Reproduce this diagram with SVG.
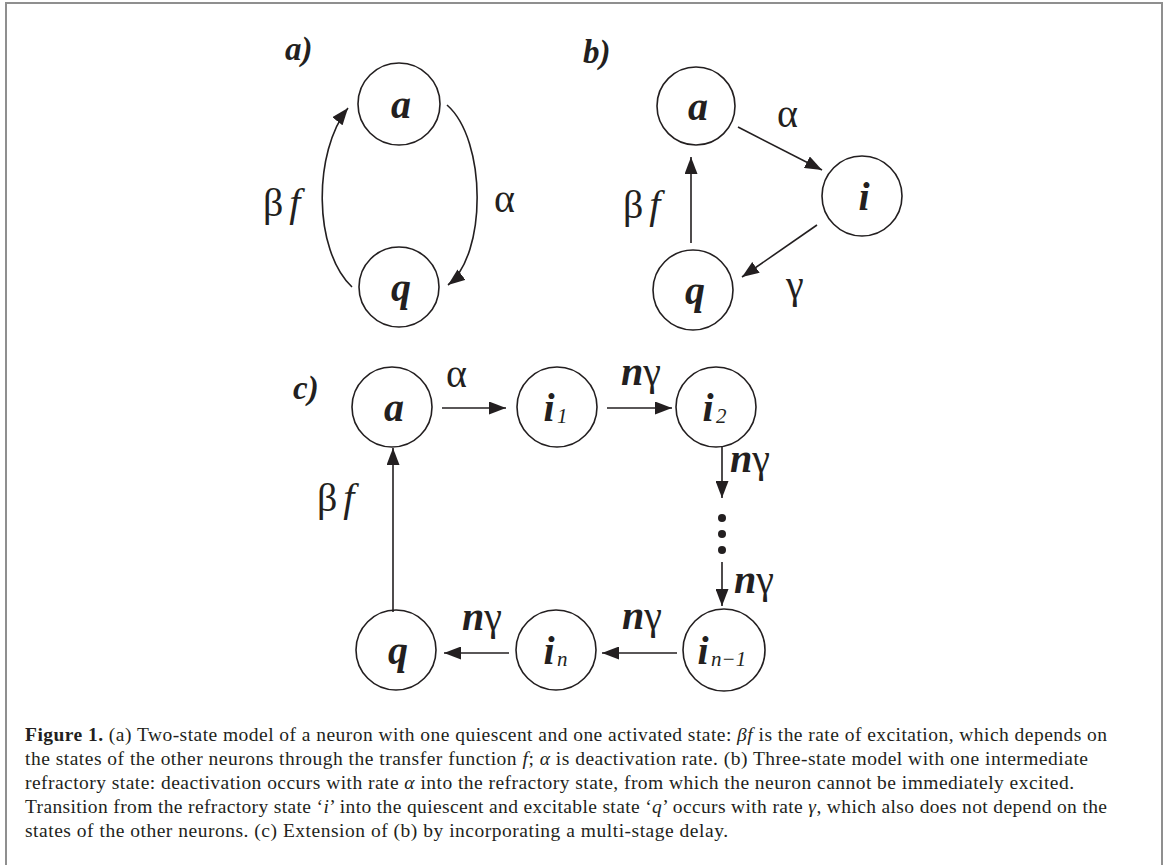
<svg xmlns="http://www.w3.org/2000/svg" width="1168" height="865" viewBox="0 0 1168 865">
<style>
.node{fill:none;stroke:#231f20;stroke-width:1.6}
.edge{fill:none;stroke:#231f20;stroke-width:1.6}
.nl{font-family:"Liberation Serif",serif;font-style:italic;font-weight:bold;font-size:40px;fill:#231f20;text-anchor:middle}
.sub{font-family:"Liberation Serif",serif;font-style:italic;font-size:21px;fill:#231f20}
.pl{font-family:"Liberation Serif",serif;font-style:italic;font-weight:bold;font-size:33px;fill:#231f20}
.gr{font-family:"Liberation Serif",serif;font-size:40px;fill:#231f20}
.it{font-style:italic}
.bi{font-style:italic;font-weight:bold}
.cap{font-family:"Liberation Serif",serif;font-size:19.5px;fill:#231f20}
</style>
<defs>
<marker id="ah" markerUnits="userSpaceOnUse" markerWidth="18" markerHeight="13" refX="17" refY="6.5" orient="auto">
<path d="M0,0 L17,6.5 L0,13 z" fill="#231f20"/>
</marker>
</defs>
<rect x="0" y="0" width="1168" height="865" fill="#ffffff"/>
<rect x="6" y="3" width="1156" height="920" fill="none" stroke="#8f8f8f" stroke-width="2"/>

<g id="connectors">
<path class="edge" d="M447,105 C487,140 487,255 448,285" marker-end="url(#ah)"/>
<path class="edge" d="M352,287 C313,250 313,152 348,108" marker-end="url(#ah)"/>
<path class="edge" d="M738,127 L822,170" marker-end="url(#ah)"/>
<path class="edge" d="M817,225 L742,277" marker-end="url(#ah)"/>
<path class="edge" d="M691,243 L691,157" marker-end="url(#ah)"/>
<path class="edge" d="M442,408 L506,408" marker-end="url(#ah)"/>
<path class="edge" d="M607,408 L672,408" marker-end="url(#ah)"/>
<path class="edge" d="M722,447 L722,498" marker-end="url(#ah)"/>
<path class="edge" d="M722,562 L722,606" marker-end="url(#ah)"/>
<path class="edge" d="M677,653 L602,653" marker-end="url(#ah)"/>
<path class="edge" d="M509,653 L444,653" marker-end="url(#ah)"/>
<path class="edge" d="M393,612 L393,448" marker-end="url(#ah)"/>
<circle cx="722" cy="518" r="4" fill="#231f20"/>
<circle cx="722" cy="534" r="4" fill="#231f20"/>
<circle cx="722" cy="550" r="4" fill="#231f20"/>
</g>

<g id="labels">
<text class="pl" x="285" y="60">a)</text>
<text class="pl" x="583" y="63">b)</text>
<text class="pl" x="293" y="399">c)</text>
<text class="gr" x="263" y="216">β<tspan class="it" dx="6">f</tspan></text>
<text class="gr" x="494" y="212">α</text>
<text class="gr" x="777" y="127">α</text>
<text class="gr" x="623" y="218">β<tspan class="it" dx="6">f</tspan></text>
<text class="gr" x="786" y="298">γ</text>
<text class="gr" x="446" y="387">α</text>
<text class="gr" x="621" y="385"><tspan class="bi">n</tspan>γ</text>
<text class="gr" x="730" y="472"><tspan class="bi">n</tspan>γ</text>
<text class="gr" x="734" y="593"><tspan class="bi">n</tspan>γ</text>
<text class="gr" x="622" y="629"><tspan class="bi">n</tspan>γ</text>
<text class="gr" x="462" y="630"><tspan class="bi">n</tspan>γ</text>
<text class="gr" x="317" y="511">β<tspan class="it" dx="6">f</tspan></text>
</g>

<g id="node-a-a">
<circle class="node" cx="399" cy="104" r="41"/>
<text class="nl" x="401" y="118">a</text>
</g>
<g id="node-a-q">
<circle class="node" cx="399" cy="287" r="40"/>
<text class="nl" x="401" y="301">q</text>
</g>
<g id="node-b-a">
<circle class="node" cx="696" cy="106" r="39"/>
<text class="nl" x="698" y="120">a</text>
</g>
<g id="node-b-i">
<circle class="node" cx="862" cy="196" r="40"/>
<text class="nl" x="864" y="210">i</text>
</g>
<g id="node-b-q">
<circle class="node" cx="693" cy="290" r="40"/>
<text class="nl" x="695" y="304">q</text>
</g>
<g id="node-c-a">
<circle class="node" cx="392" cy="407" r="40"/>
<text class="nl" x="394" y="421">a</text>
</g>
<g id="node-c-i1">
<circle class="node" cx="557" cy="407" r="40"/>
<text class="nl" x="549" y="421">i</text><text class="sub" x="557" y="423">1</text>
</g>
<g id="node-c-i2">
<circle class="node" cx="716" cy="407" r="40"/>
<text class="nl" x="708" y="421">i</text><text class="sub" x="716" y="423">2</text>
</g>
<g id="node-c-in1">
<circle class="node" cx="724" cy="650" r="41"/>
<text class="nl" x="703" y="664">i</text><text class="sub" x="711" y="666">n−1</text>
</g>
<g id="node-c-in">
<circle class="node" cx="556" cy="650" r="40"/>
<text class="nl" x="549" y="664">i</text><text class="sub" x="557" y="666">n</text>
</g>
<g id="node-c-q">
<circle class="node" cx="396" cy="650" r="40"/>
<text class="nl" x="398" y="664">q</text>
</g>

<g id="caption">
<text class="cap" x="25" y="741" textLength="1082" lengthAdjust="spacing"><tspan font-weight="bold">Figure 1.</tspan> (a) Two-state model of a neuron with one quiescent and one activated state:  <tspan class="it">βf</tspan>  is the rate of excitation, which depends on</text>
<text class="cap" x="25" y="765" textLength="1063" lengthAdjust="spacing">the states of the other neurons through the transfer function <tspan class="it">f</tspan>; <tspan class="it">α</tspan> is deactivation rate. (b) Three-state model with one intermediate</text>
<text class="cap" x="25" y="789" textLength="1049" lengthAdjust="spacing">refractory state: deactivation occurs with rate <tspan class="it">α</tspan> into the refractory state, from which the neuron cannot be immediately excited.</text>
<text class="cap" x="25" y="813" textLength="1082" lengthAdjust="spacing">Transition from the refractory state ‘<tspan class="it">i</tspan>’ into the quiescent and excitable state ‘<tspan class="it">q</tspan>’ occurs with rate <tspan class="it">γ</tspan>, which also does not depend on the</text>
<text class="cap" x="25" y="837" textLength="703" lengthAdjust="spacing">states of  the other neurons. (c) Extension of (b) by incorporating a multi-stage delay.</text>
</g>
</svg>
